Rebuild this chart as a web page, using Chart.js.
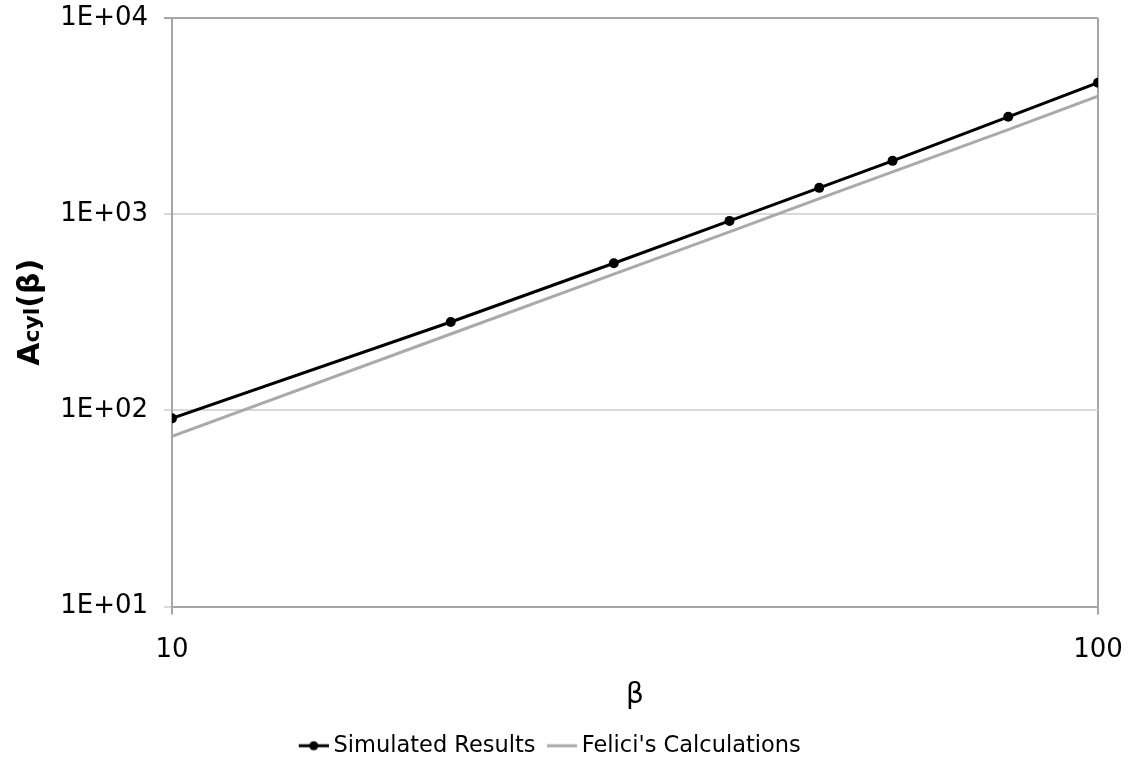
<!DOCTYPE html>
<html>
<head>
<meta charset="utf-8">
<script src="https://cdn.jsdelivr.net/npm/chart.js@4/dist/chart.umd.min.js"></script>
<style>
  body { margin: 0; background: #fff; }
  #wrap { width: 1134px; height: 763px; position: relative; }
</style>
</head>
<body>
<div id="wrap"><canvas id="chart"></canvas></div>
<script>
// values (log-log)
const beta = [10, 20, 30, 40, 50, 60, 80, 100];
const simulated = [91, 282, 562, 924, 1362, 1870, 3135, 4677];
const felici = [73.6, 245, 495, 813, 1199, 1642, 2696, 4000];

const xTickValues = [10, 100];
const xTickLabels = ["10", "100"];
const yTickValues = [10, 100, 1000, 10000];
const yTickLabels = ["1E+01", "1E+02", "1E+03", "1E+04"];

const FONT = "'DejaVu Sans', Verdana, sans-serif";

// legend sample: short line (with dot for the simulated series), drawn a bit right of centre
function legendSwatch(color, dot) {
  const c = document.createElement("canvas");
  c.width = 38; c.height = 12;
  const g = c.getContext("2d");
  g.strokeStyle = color;
  g.lineWidth = 3;
  g.beginPath(); g.moveTo(8, 6); g.lineTo(38, 6); g.stroke();
  if (dot) {
    g.fillStyle = color;
    g.beginPath(); g.arc(23, 6, 4.5, 0, Math.PI * 2); g.fill();
  }
  return c;
}
const swatches = [legendSwatch("#000000", true), legendSwatch("#aaaaaa", false)];

// y axis title: A with smaller "cyl", rotated
const yTitle = {
  id: "yTitle",
  afterDraw(chart) {
    const ctx = chart.ctx;
    const area = chart.chartArea;
    const parts = [
      { t: "A", size: 30 },
      { t: "cyl", size: 22 },
      { t: "(β)", size: 30 }
    ];
    ctx.save();
    let total = 0;
    parts.forEach(p => {
      ctx.font = "bold " + p.size + "px " + FONT;
      p.w = ctx.measureText(p.t).width;
      total += p.w;
    });
    const cy = (area.top + area.bottom) / 2;
    ctx.translate(39, cy);
    ctx.rotate(-Math.PI / 2);
    ctx.fillStyle = "#000";
    ctx.textBaseline = "alphabetic";
    let x = -total / 2;
    parts.forEach(p => {
      ctx.font = "bold " + p.size + "px " + FONT;
      ctx.fillText(p.t, x, 0);
      x += p.w;
    });
    ctx.restore();
  }
};

new Chart(document.getElementById("chart"), {
  type: "line",
  data: {
    datasets: [
      {
        label: "Simulated Results",
        data: beta.map((b, i) => ({ x: b, y: simulated[i] })),
        borderColor: "#000000",
        backgroundColor: "#000000",
        borderWidth: 3,
        pointRadius: 5,
        pointHoverRadius: 5,
        pointBorderWidth: 0,
        tension: 0,
        order: 0
      },
      {
        label: "Felici's Calculations",
        data: beta.map((b, i) => ({ x: b, y: felici[i] })),
        borderColor: "#aaaaaa",
        backgroundColor: "#aaaaaa",
        borderWidth: 3,
        pointRadius: 0,
        tension: 0,
        order: 1
      }
    ]
  },
  options: {
    responsive: true,
    maintainAspectRatio: false,
    animation: false,
    layout: { padding: { left: 0, right: 36, top: 18, bottom: -4 } },
    plugins: {
      tooltip: { enabled: false },
      legend: {
        position: "bottom",
        labels: {
          color: "#000",
          font: { family: FONT, size: 22.5 },
          usePointStyle: true,
          pointStyleWidth: 25,
          padding: 10,
          generateLabels(chart) {
            const items = Chart.defaults.plugins.legend.labels.generateLabels(chart);
            items.forEach((it, i) => { it.pointStyle = swatches[i]; });
            return items;
          }
        }
      }
    },
    scales: {
      x: {
        type: "logarithmic",
        min: 10,
        max: 100,
        afterBuildTicks(scale) {
          scale.ticks = xTickValues.map(v => ({ value: v }));
        },
        afterFit(scale) {
          scale.height = 118;
          scale.paddingLeft = 0;
          scale.paddingRight = 0;
        },
        ticks: {
          color: "#000",
          font: { family: FONT, size: 26 },
          padding: 20,
          maxRotation: 0,
          autoSkip: false,
          callback: (v) => xTickLabels[xTickValues.indexOf(v)]
        },
        grid: {
          color: (c) => (c.tick && c.tick.value === 100 ? "#a6a6a6" : "rgba(0,0,0,0)"),
          lineWidth: 2,
          drawTicks: true,
          tickLength: 8,
          tickColor: "#a6a6a6"
        },
        border: { color: "#a6a6a6", width: 2 },
        title: {
          display: true,
          text: "β",
          color: "#000",
          font: { family: FONT, size: 28 },
          padding: { top: 0, bottom: 12 }
        }
      },
      y: {
        type: "logarithmic",
        min: 10,
        max: 10000,
        afterBuildTicks(scale) {
          scale.ticks = yTickValues.map(v => ({ value: v }));
        },
        afterFit(scale) {
          scale.width = 172;
          scale.paddingTop = 0;
          scale.paddingBottom = 0;
        },
        ticks: {
          color: "#000",
          font: { family: FONT, size: 26 },
          padding: 16,
          autoSkip: false,
          callback: (v) => yTickLabels[yTickValues.indexOf(v)]
        },
        grid: {
          color: (c) => {
            if (!c.tick) return "#d9d9d9";
            if (c.tick.value === 10000) return "#a6a6a6";
            return "#d9d9d9";
          },
          lineWidth: 2,
          drawTicks: true,
          tickLength: 8
        },
        border: { color: "#a6a6a6", width: 2 }
      }
    }
  },
  plugins: [yTitle]
});
</script>
</body>
</html>
